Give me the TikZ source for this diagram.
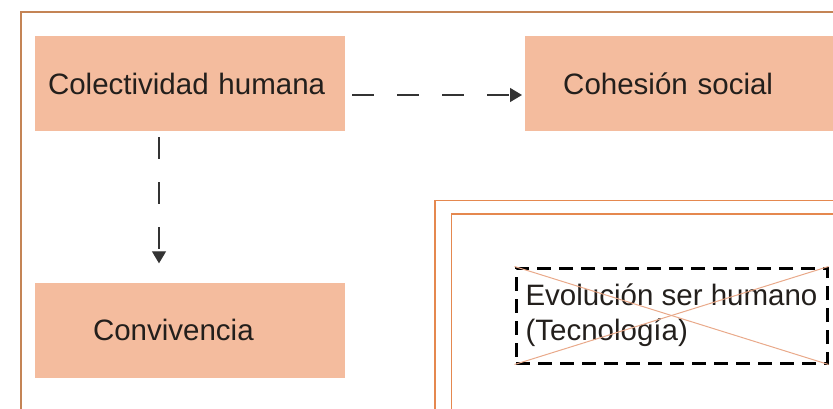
\documentclass[tikz,border=0pt]{standalone}
\usepackage{fontspec}
\setmainfont{Liberation Sans}
\usetikzlibrary{arrows.meta}
\definecolor{boxfill}{HTML}{F4BC9E}
\definecolor{framebrown}{HTML}{C48455}
\definecolor{frameorange}{HTML}{E5884F}
\definecolor{crossline}{HTML}{E9A98A}
\definecolor{inktext}{HTML}{231F1C}
\begin{document}
\begin{tikzpicture}[x=1pt,y=-1pt,
        concept/.style={fill=boxfill,minimum height=95pt,align=left,
            text=inktext,font=\fontsize{29.5}{35}\selectfont},
        crossed/.style={draw=black,line width=3pt,dash pattern=on 14pt off 8pt,
            minimum width=311pt,minimum height=95pt,inner xsep=4pt,
            align=left,text=inktext,font=\fontsize{29.5}{35}\selectfont},
        link/.style={draw=black!80,line width=1.3pt,dash pattern=on 22pt off 23pt,
            -{Triangle[length=12pt,width=14pt]}}]
            \useasboundingbox (0,0) rectangle (833,409);
            \clip (0,0) rectangle (833,409);
            \draw[framebrown,line width=1.5pt] (21,12) rectangle (900,500);
            \draw[frameorange,line width=1.8pt] (435,200.5) rectangle (900,500);
            \draw[frameorange,line width=1.8pt] (451.5,214) rectangle (900,500);
            \node[concept,inner xsep=13pt,text width=284pt] (colect) at (190,83.5) {Colectividad humana};
            \node[concept,anchor=west,inner xsep=38pt,text width=280pt] (cohes) at (525,83.5) {Cohesión social};
            \node[concept,inner xsep=58pt,text width=194pt] (conv) at (190,330) {Convivencia};
            \node[crossed] (evol) at (671.5,315.5) {Evolución ser humano\\(Tecnología)};
            \draw[crossline,line width=1pt] (evol.north west) -- (evol.south east);
            \draw[crossline,line width=1pt] (evol.south west) -- (evol.north east);
            \draw[link,shorten <=7pt,shorten >=3pt] ([yshift=-11.5pt]colect.east) -- ([yshift=-11.5pt]cohes.west);
            \draw[link,shorten <=6pt,shorten >=19pt] ([xshift=-31pt]colect.south) -- ([xshift=-31pt]conv.north);
        \end{tikzpicture}
\end{document}
